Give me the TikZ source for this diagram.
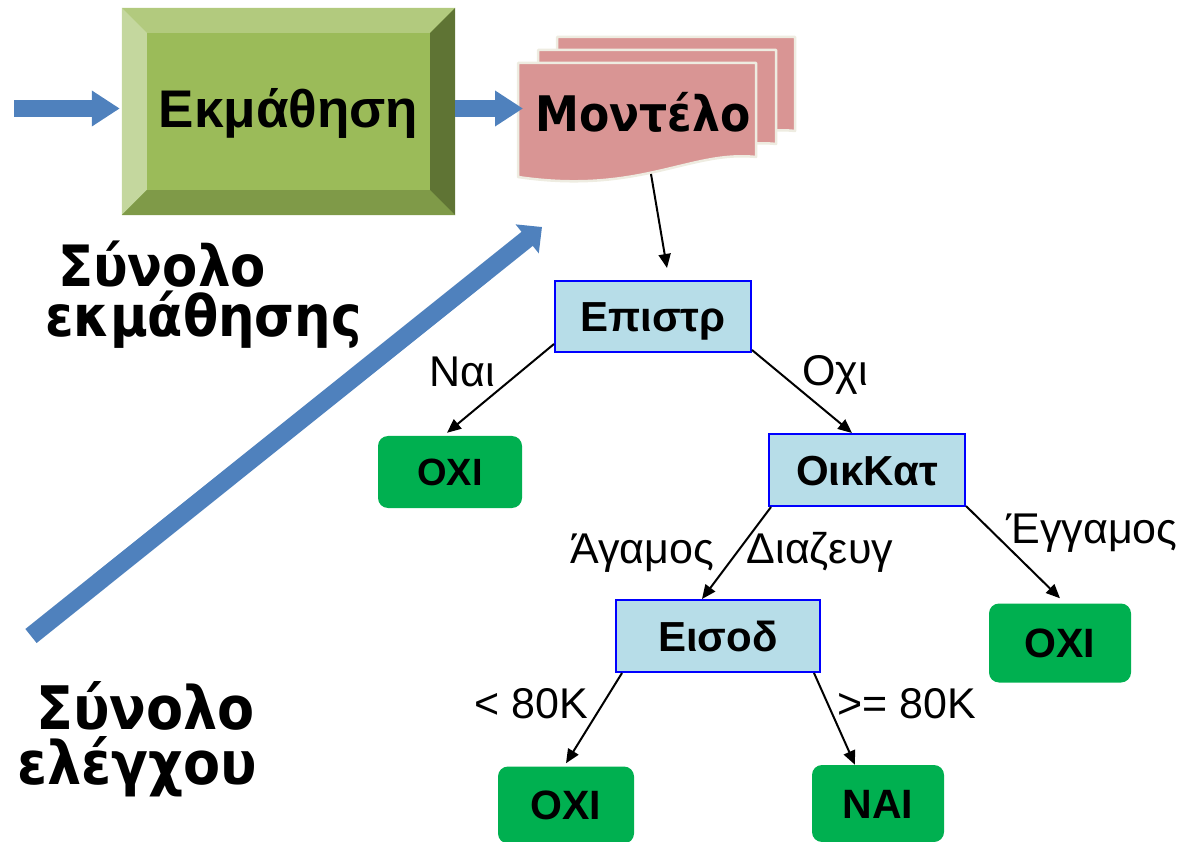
\documentclass[tikz,border=0pt]{standalone}
\usepackage{fontspec}
\setmainfont{Liberation Sans}
\newfontfamily\titlefont{DejaVu Sans}[FakeStretch=0.9]
\usetikzlibrary{arrows.meta,calc}

\definecolor{arrowblue}{HTML}{4F81BD}
\definecolor{bevelmid}{HTML}{9BBB59}
\definecolor{beveltop}{HTML}{B2CA7E}
\definecolor{bevelleft}{HTML}{C4D79E}
\definecolor{bevelbottom}{HTML}{7F9A48}
\definecolor{bevelright}{HTML}{5F7434}
\definecolor{sheetfill}{HTML}{D99594}
\definecolor{sheetedge}{HTML}{EEECE1}
\definecolor{testfill}{HTML}{B7DDE8}
\definecolor{leafgreen}{HTML}{00B050}

% one sheet of the stacked "model" document, top-left corner at #1
\newcommand\modelsheet[1]{%
  \filldraw[sheet,shift={(#1)}] (0,0) -- (238,0) -- (238,94)
    .. controls (172,87) and (122,132) .. (0,114) -- cycle;}

\begin{document}
\begin{tikzpicture}[x=1pt,y=-1pt,
  sheet/.style={fill=sheetfill, draw=sheetedge, line width=2.5pt, line join=round},
  learnbox/.style={fill=bevelmid, minimum width=333pt, minimum height=207pt, inner sep=0pt,
    font=\bfseries\fontsize{53}{60}\selectfont, text height=38pt, text depth=6pt},
  modeltext/.style={font=\titlefont\bfseries\fontsize{49}{56}\selectfont, inner sep=0pt,
    text height=36pt, text depth=0pt},
  setlabel/.style={font=\titlefont\bfseries\fontsize{57}{62}\selectfont, inner sep=0pt, anchor=base west},
  biglabel/.style={setlabel, font=\titlefont\bfseries\fontsize{60}{64}\selectfont},
  blockarrow/.style={draw=arrowblue, line width=17pt, -{Triangle[length=28pt 0 0,width=34pt 0 0]}},
  diagarrow/.style={draw=arrowblue, line width=18pt, -{Triangle[length=19pt 0 0,width=36pt 0 0]}},
  testbox/.style={draw=blue, line width=2pt, fill=testfill, inner sep=0pt,
    font=\bfseries\fontsize{42}{48}\selectfont, text height=30pt, text depth=0pt},
  leaf/.style={fill=leafgreen, rounded corners=10pt, inner sep=0pt,
    font=\bfseries\fontsize{38}{44}\selectfont, text height=27pt, text depth=0pt},
  bigleaf/.style={leaf, font=\bfseries\fontsize{41}{46}\selectfont, text height=29pt},
  branch/.style={font=\fontsize{43}{48}\selectfont, inner sep=0pt, anchor=base},
  edge/.style={draw=black, line width=2pt, -{Triangle[length=14pt 0 0,width=12pt 0 0]}}
]
\useasboundingbox (0,0) rectangle (1195,842);

% stacked model document
\modelsheet{557,37}
\modelsheet{538,50}
\modelsheet{518,63}
\node[modeltext] (model) at (643,114) {Μοντέλο};
\coordinate (modelfoot) at (651,174);

% bevelled learning block
\node[learnbox] (learn) at (288.5,111.5) {Εκμάθηση};
\fill[beveltop] (learn.north west) -- (learn.north east) -- ($(learn.north east)+(-25,25)$)
  -- ($(learn.north west)+(25,25)$) -- cycle;
\fill[bevelleft] (learn.north west) -- ($(learn.north west)+(25,25)$)
  -- ($(learn.south west)+(25,-25)$) -- (learn.south west) -- cycle;
\fill[bevelbottom] (learn.south west) -- ($(learn.south west)+(25,-25)$)
  -- ($(learn.south east)+(-25,-25)$) -- (learn.south east) -- cycle;
\fill[bevelright] (learn.north east) -- (learn.south east)
  -- ($(learn.south east)+(-25,-25)$) -- ($(learn.north east)+(-25,25)$) -- cycle;

% block arrows
\coordinate (feed) at (14,108.5);
\coordinate (sheetin) at (523,108.5);
\draw[blockarrow] (feed) -- ([xshift=-2pt]feed -| learn.west);
\draw[blockarrow] (learn.east |- sheetin) -- (sheetin);
\coordinate (testtail) at (31,636);
\coordinate (testhead) at (542,227);
\draw[diagarrow] (testtail) -- (testhead);

% data set labels
\node[setlabel] (trainA) at (58,287) {Σύνολο};
\node[setlabel] (trainB) at (45,337) {εκμάθησης};
\node[biglabel] (testA) at (36,729) {Σύνολο};
\node[biglabel] (testB) at (17,784) {ελέγχου};

% decision tree
\node[testbox, minimum width=196pt, minimum height=71pt] (epistr) at (653,316.5) {Επιστρ};
\node[testbox, minimum width=196pt, minimum height=72pt] (oikkat) at (867,470) {ΟικΚατ};
\node[testbox, minimum width=204pt, minimum height=72pt] (eisod) at (718,636) {Εισοδ};
\node[leaf, minimum width=144pt, minimum height=72pt] (oxi1) at (450,472) {ΟΧΙ};
\node[bigleaf, minimum width=142pt, minimum height=79pt] (oxi2) at (1060,643) {ΟΧΙ};
\node[bigleaf, minimum width=136pt, minimum height=77pt] (oxi3) at (566,805) {ΟΧΙ};
\node[bigleaf, minimum width=132pt, minimum height=77pt] (nai) at (878,803.5) {ΝΑΙ};

\draw[edge] (modelfoot) -- ([xshift=14pt,yshift=12pt]epistr.north);
\draw[edge] ([yshift=9pt]epistr.south west) -- ([xshift=-3pt,yshift=3pt]oxi1.north);
\draw[edge] ([yshift=3pt]epistr.south east) -- ([xshift=-15pt]oikkat.north);
\draw[edge] ([xshift=3pt]oikkat.south west) -- ([xshift=-16pt]eisod.north);
\draw[edge] ([yshift=1pt]oikkat.south east) -- ([yshift=5pt]oxi2.north);
\draw[edge] ([xshift=7pt]eisod.south west) -- ([yshift=3pt]oxi3.north);
\draw[edge] ([xshift=-7pt]eisod.south east) -- ([xshift=-23pt]nai.north);

% branch labels
\node[branch] (lyes) at (462,387) {Ναι};
\node[branch] (lno) at (835,386) {Οχι};
\node[branch] (lsingle) at (642,563) {Άγαμος};
\node[branch] (ldiv) at (820,563) {Διαζευγ};
\node[branch] (lmarried) at (1092,543) {Έγγαμος};
\node[branch] (llow) at (531,718) {< 80K};
\node[branch] (lhigh) at (907,718) {>= 80K};
\end{tikzpicture}
\end{document}
